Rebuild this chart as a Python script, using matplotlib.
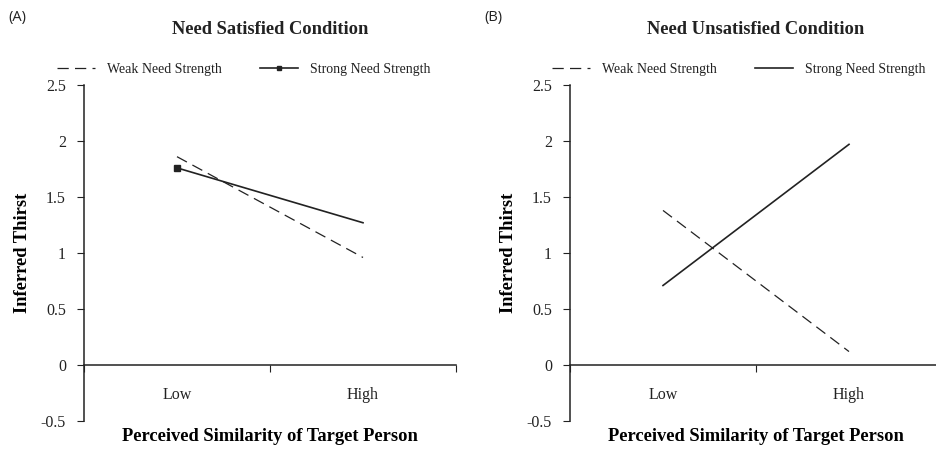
import matplotlib
matplotlib.use("Agg")
import matplotlib.pyplot as plt

# data
categories = ["Low", "High"]
satisfied_weak = [1.86, 0.96]
satisfied_strong = [1.76, 1.27]
unsatisfied_weak = [1.38, 0.12]
unsatisfied_strong = [0.71, 1.97]
y_ticks = [-0.5, 0, 0.5, 1, 1.5, 2, 2.5]
y_tick_labels = ["-0.5", "0", "0.5", "1", "1.5", "2", "2.5"]

panel_letters = ["(A)", "(B)"]
titles = ["Need Satisfied Condition", "Need Unsatisfied Condition"]
ink = "#222222"

plt.rcParams["font.family"] = ["Liberation Serif", "DejaVu Serif"]
plt.rcParams["text.color"] = ink

fig = plt.figure(figsize=(9.36, 4.5), dpi=100)
axes_pos = [[84 / 936, 29 / 450, 372 / 936, 336 / 450],
            [570 / 936, 29 / 450, 372 / 936, 336 / 450]]
series = [(satisfied_weak, satisfied_strong, True),
          (unsatisfied_weak, unsatisfied_strong, False)]
letter_x = [8 / 936, 484 / 936]
legend_x = [(57 - 84) / 372, (552 - 570) / 372]

for i, (weak, strong, marked) in enumerate(series):
    ax = fig.add_axes(axes_pos[i])
    xs = [0.5, 1.5]
    ax.plot(xs, weak, color=ink, lw=0.9, dashes=(9, 5),
            label="Weak Need Strength")
    if marked:
        ax.plot(xs, strong, color=ink, lw=1.2, marker="s", markersize=5,
                markevery=[0], label="Strong Need Strength")
    else:
        ax.plot(xs, strong, color=ink, lw=1.2, label="Strong Need Strength")

    ax.set_xlim(0, 2)
    ax.set_ylim(-0.5, 2.5)
    ax.set_yticks(y_ticks)
    ax.set_yticklabels(y_tick_labels)
    ax.set_xticks([0, 1, 2])
    ax.set_xticklabels([])
    ax.set_xticks(xs, minor=True)
    ax.set_xticklabels(categories, minor=True)
    ax.tick_params(axis="x", which="minor", length=0, pad=16, labelsize=11.5,
                   colors=ink)
    ax.tick_params(axis="x", which="major", direction="out", length=5,
                   color=ink)
    ax.tick_params(axis="y", direction="out", length=5, labelsize=11.5,
                   colors=ink, pad=8)

    for s in ["top", "right"]:
        ax.spines[s].set_visible(False)
    ax.spines["bottom"].set_position(("data", 0))
    ax.spines["left"].set_color(ink)
    ax.spines["bottom"].set_color(ink)
    ax.spines["left"].set_linewidth(1.1)
    ax.spines["bottom"].set_linewidth(1.1)
    ax.patch.set_alpha(0)

    ax.set_ylabel("Inferred Thirst", fontsize=13.3, fontweight="bold",
                  labelpad=7)
    ax.set_xlabel("Perceived Similarity of Target Person", fontsize=13.3,
                  fontweight="bold")
    ax.xaxis.set_label_coords(0.5, -0.022)
    ax.set_title(titles[i], fontsize=13.3, fontweight="bold", pad=36.5)

    ax.legend(loc="center left", bbox_to_anchor=(legend_x[i], 1.046),
              ncol=2, frameon=False, fontsize=10, handlelength=2.7,
              handletextpad=0.9, columnspacing=2.75, borderpad=0,
              borderaxespad=0, markerscale=0.5, numpoints=1)

    fig.text(letter_x[i], 1 - 17 / 450, panel_letters[i], fontsize=10.5,
             family=["Open Sans", "DejaVu Sans"], va="center", ha="left",
             color=ink)

fig.savefig("out.png", dpi=100)
